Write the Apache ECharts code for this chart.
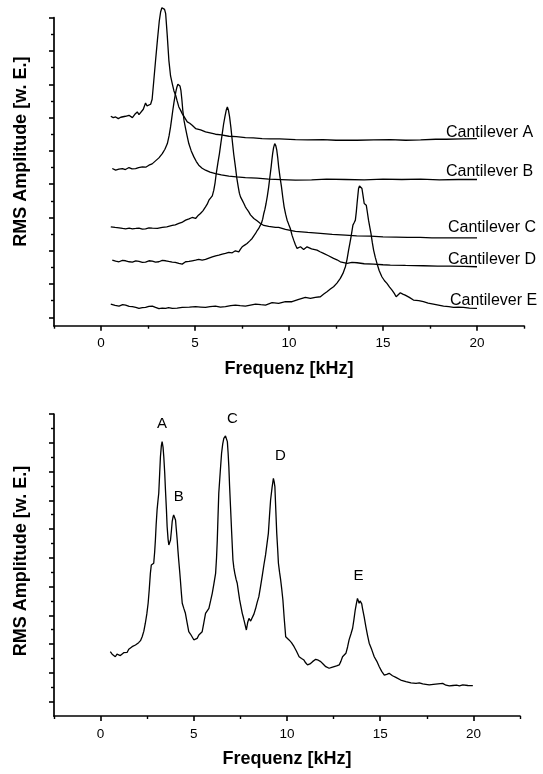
<!DOCTYPE html>
<html>
<head>
<meta charset="utf-8">
<script src="https://cdn.jsdelivr.net/npm/echarts@6/dist/echarts.min.js"></script>
<style>
  html, body { margin: 0; padding: 0; background: #fff; }
  #chart { width: 543px; height: 774px; }
</style>
</head>
<body>
<div id="chart"></div>
<script>
// ---- Resonance spectra of the individual cantilevers (offset for display) ----
// [frequency kHz, RMS amplitude a.u.]
const cantileverA = [
  [0.52,12.58],[0.65,12.5],[0.78,12.54],[0.92,12.44],[1.05,12.52],[1.14,12.44],[1.3,12.58],[1.49,12.64],
  [1.58,12.52],[1.67,12.5],[1.8,12.7],[1.93,12.84],[2.02,12.68],[2.11,12.74],[2.25,13.0],[2.37,13.38],
  [2.45,13.2],[2.52,13.14],[2.64,13.3],[2.72,13.6],[2.81,14.74],[2.9,15.9],[3.0,17.14],[3.1,18.3],
  [3.17,18.84],[3.24,19.1],[3.31,19.18],[3.38,19.0],[3.44,18.74],[3.52,17.5],[3.61,15.94],[3.7,15.0],
  [3.79,14.54],[3.88,14.1],[3.97,13.84],[4.05,13.5],[4.14,13.14],[4.23,12.95],[4.32,12.74],[4.45,12.5],
  [4.59,12.24],[4.72,12.16],[4.85,12.04],[5.03,11.84],[5.3,11.76],[5.56,11.64],[5.8,11.58],[6.09,11.5],
  [6.4,11.46],[6.8,11.38],[7.2,11.36],[7.68,11.3],[8.1,11.28],[8.57,11.24],[9.0,11.22],[9.5,11.22],
  [10.34,11.18],[11.0,11.16],[11.8,11.18],[12.5,11.14],[13.62,11.14],[14.5,11.16],[15.39,11.18],
  [16.2,11.14],[17.0,11.16],[17.8,11.2],[18.36,11.2],[19.2,11.22],[20.0,11.24]
];
const cantileverB = [
  [0.6,9.44],[0.78,9.34],[0.95,9.4],[1.14,9.44],[1.3,9.38],[1.49,9.5],[1.65,9.42],[1.84,9.44],[2.0,9.5],
  [2.2,9.54],[2.38,9.52],[2.55,9.64],[2.72,9.72],[2.9,9.9],[3.08,10.08],[3.26,10.34],[3.4,10.6],[3.53,10.94],
  [3.62,11.4],[3.7,11.94],[3.76,12.44],[3.82,12.94],[3.88,13.4],[3.93,13.74],[3.99,14.1],[4.04,14.34],
  [4.09,14.5],[4.14,14.54],[4.2,14.4],[4.25,14.14],[4.3,13.6],[4.35,12.94],[4.42,12.3],[4.5,11.84],
  [4.58,11.4],[4.67,10.94],[4.8,10.5],[4.94,10.14],[5.07,9.86],[5.2,9.64],[5.38,9.46],[5.56,9.34],
  [5.8,9.22],[6.09,9.14],[6.4,9.06],[6.8,8.98],[7.2,8.94],[7.68,8.9],[8.3,8.86],[8.92,8.8],[9.6,8.78],
  [10.34,8.74],[11.2,8.76],[12.0,8.8],[13.0,8.78],[14.0,8.76],[15.0,8.8],[16.0,8.78],[17.0,8.8],
  [18.0,8.76],[19.0,8.78],[20.0,8.78]
];
const cantileverC = [
  [0.52,5.94],[0.75,5.9],[0.96,5.88],[1.15,5.84],[1.31,5.82],[1.5,5.86],[1.67,5.82],[1.85,5.84],[2.02,5.86],
  [2.2,5.8],[2.37,5.82],[2.55,5.88],[2.73,5.86],[3.0,5.84],[3.26,5.9],[3.5,5.94],[3.79,6.02],[3.95,6.06],
  [4.14,6.14],[4.3,6.2],[4.5,6.34],[4.68,6.42],[4.85,6.5],[5.03,6.44],[5.15,6.6],[5.29,6.74],[5.42,6.9],
  [5.56,7.14],[5.65,7.3],[5.74,7.54],[5.83,7.44],[5.92,7.8],[6.0,8.14],[6.07,8.6],[6.13,9.14],[6.22,9.8],
  [6.3,10.34],[6.38,11.0],[6.45,11.54],[6.52,12.1],[6.59,12.54],[6.66,12.94],[6.72,13.14],[6.78,12.94],
  [6.84,12.54],[6.91,11.9],[6.98,11.14],[7.06,10.3],[7.15,9.54],[7.22,8.9],[7.3,8.34],[7.36,7.96],
  [7.42,7.74],[7.51,7.54],[7.6,7.34],[7.68,7.14],[7.77,6.98],[7.86,6.84],[7.95,6.66],[8.04,6.54],
  [8.13,6.44],[8.22,6.38],[8.3,6.3],[8.39,6.24],[8.48,6.14],[8.57,6.1],[8.66,6.02],[8.75,5.98],
  [8.92,5.96],[9.1,5.94],[9.28,5.9],[9.45,5.9],[9.63,5.84],[9.81,5.78],[10.07,5.72],[10.34,5.66],
  [11.0,5.6],[11.67,5.54],[12.3,5.48],[13.0,5.44],[13.6,5.4],[14.32,5.38],[15.0,5.34],[15.7,5.32],
  [16.3,5.3],[16.98,5.3],[17.6,5.28],[18.3,5.28],[19.2,5.28],[20.0,5.28]
];
const cantileverD = [
  [0.6,3.94],[0.78,3.88],[0.96,3.84],[1.14,3.92],[1.31,3.9],[1.5,3.84],[1.67,3.82],[1.85,3.9],[2.02,3.86],
  [2.2,3.8],[2.37,3.82],[2.55,3.9],[2.73,3.88],[2.9,3.82],[3.08,3.84],[3.26,3.92],[3.44,3.9],[3.6,3.86],
  [3.79,3.82],[3.95,3.8],[4.14,3.74],[4.32,3.7],[4.5,3.84],[4.68,3.86],[4.85,3.9],[5.03,3.94],[5.2,3.98],
  [5.38,3.94],[5.56,3.98],[5.74,4.06],[5.92,4.14],[6.1,4.2],[6.27,4.24],[6.45,4.3],[6.62,4.34],[6.8,4.4],
  [6.98,4.38],[7.15,4.5],[7.33,4.44],[7.42,4.6],[7.51,4.74],[7.64,4.84],[7.77,4.94],[7.9,5.08],[8.04,5.24],
  [8.13,5.4],[8.22,5.54],[8.3,5.7],[8.39,5.84],[8.46,6.0],[8.53,6.14],[8.6,6.4],[8.66,6.74],[8.72,7.0],
  [8.78,7.34],[8.85,7.8],[8.92,8.34],[8.98,8.9],[9.05,9.54],[9.09,9.96],[9.13,10.34],[9.18,10.7],
  [9.24,10.94],[9.3,10.8],[9.35,10.54],[9.4,10.1],[9.45,9.54],[9.52,8.94],[9.6,8.34],[9.67,7.7],
  [9.74,7.14],[9.82,6.7],[9.9,6.34],[9.98,6.1],[10.07,5.84],[10.16,5.44],[10.25,5.14],[10.34,4.86],
  [10.43,4.64],[10.52,4.68],[10.61,4.74],[10.7,4.64],[10.78,4.58],[10.96,4.74],[11.2,4.62],[11.49,4.54],
  [11.65,4.44],[11.84,4.34],[12.1,4.2],[12.37,4.04],[12.55,3.96],[12.73,3.84],[13.09,3.74],[13.35,3.8],
  [13.62,3.78],[14.0,3.72],[14.5,3.7],[15.0,3.66],[15.39,3.64],[16.2,3.62],[17.15,3.6],[17.9,3.58],
  [18.57,3.58],[19.3,3.56],[20.0,3.54]
];
const cantileverE = [
  [0.52,1.3],[0.75,1.22],[0.96,1.18],[1.15,1.26],[1.31,1.24],[1.5,1.16],[1.67,1.14],[1.85,1.1],[2.02,1.04],
  [2.2,1.08],[2.37,1.1],[2.55,1.16],[2.73,1.18],[2.9,1.1],[3.08,1.02],[3.26,1.06],[3.44,1.04],[3.6,1.08],
  [3.79,1.04],[4.05,1.06],[4.32,1.1],[4.7,1.12],[5.03,1.14],[5.3,1.12],[5.56,1.1],[5.8,1.14],[6.09,1.18],
  [6.35,1.12],[6.62,1.14],[6.9,1.2],[7.15,1.24],[7.4,1.2],[7.68,1.18],[7.95,1.24],[8.22,1.3],[8.5,1.26],
  [8.75,1.24],[9.1,1.38],[9.45,1.34],[9.81,1.44],[10.16,1.44],[10.52,1.58],[10.87,1.7],[11.14,1.64],
  [11.4,1.7],[11.67,1.74],[11.85,1.9],[12.02,2.04],[12.2,2.2],[12.37,2.34],[12.55,2.56],[12.73,2.84],
  [12.87,3.14],[13.0,3.54],[13.09,4.0],[13.17,4.54],[13.24,4.96],[13.3,5.34],[13.4,6.04],[13.47,6.2],
  [13.53,6.34],[13.58,6.84],[13.62,7.34],[13.66,7.8],[13.7,8.24],[13.75,8.4],[13.79,8.44],[13.84,8.36],
  [13.88,8.24],[13.94,7.8],[14.0,7.34],[14.06,7.3],[14.11,7.24],[14.17,6.8],[14.23,6.34],[14.3,5.9],
  [14.36,5.54],[14.43,5.0],[14.5,4.54],[14.59,4.1],[14.68,3.74],[14.8,3.3],[14.94,2.94],[15.08,2.7],
  [15.21,2.54],[15.35,2.32],[15.48,2.14],[15.6,1.94],[15.7,1.74],[15.8,1.86],[15.92,1.98],[16.05,1.9],
  [16.18,1.84],[16.4,1.7],[16.62,1.54],[16.9,1.5],[17.15,1.44],[17.4,1.36],[17.68,1.3],[17.95,1.24],
  [18.22,1.18],[18.5,1.14],[18.75,1.1],[19.0,1.12],[19.28,1.1],[19.6,1.06],[20.0,1.04]
];

// ---- Combined spectrum of the cantilever array ----
const combinedSpectrum = [
  [0.52,4.47],[0.62,4.3],[0.7,4.4],[0.79,4.12],[0.88,4.3],[0.97,4.36],[1.06,4.2],[1.15,4.24],[1.24,4.4],
  [1.33,4.47],[1.42,4.42],[1.51,4.64],[1.6,4.7],[1.69,4.82],[1.78,4.78],[1.87,4.94],[1.96,5.0],[2.04,5.1],
  [2.14,5.24],[2.23,5.51],[2.32,5.9],[2.4,6.45],[2.48,7.1],[2.55,7.84],[2.61,8.8],[2.67,9.92],[2.72,10.5],
  [2.76,10.62],[2.81,10.6],[2.85,10.62],[2.9,11.4],[2.94,12.24],[2.98,13.3],[3.03,14.33],[3.08,15.0],
  [3.12,15.49],[3.17,16.9],[3.21,18.03],[3.26,18.8],[3.3,19.08],[3.35,18.7],[3.39,18.03],[3.44,16.9],
  [3.48,15.72],[3.53,14.4],[3.57,13.16],[3.62,12.3],[3.66,11.89],[3.71,12.0],[3.75,12.24],[3.8,12.9],
  [3.84,13.51],[3.88,13.8],[3.92,13.98],[3.97,13.9],[4.02,13.63],[4.06,13.0],[4.11,12.24],[4.15,11.5],
  [4.19,10.85],[4.24,10.1],[4.28,9.46],[4.33,8.6],[4.38,7.84],[4.46,7.5],[4.55,7.14],[4.64,6.5],
  [4.73,5.86],[4.82,5.7],[4.91,5.63],[5.0,5.3],[5.09,5.17],[5.18,5.4],[5.27,5.63],[5.36,5.7],[5.45,5.86],
  [5.54,6.5],[5.63,7.14],[5.72,7.2],[5.81,7.49],[5.9,8.0],[5.99,8.53],[6.08,9.2],[6.17,9.92],[6.22,11.0],
  [6.26,12.24],[6.3,13.9],[6.34,15.49],[6.42,17.0],[6.49,18.27],[6.55,18.9],[6.61,19.31],[6.66,19.42],
  [6.7,19.47],[6.75,19.35],[6.8,19.08],[6.84,18.3],[6.88,17.34],[6.92,16.0],[6.97,14.55],[7.03,12.8],
  [7.1,10.85],[7.15,10.3],[7.2,9.92],[7.27,9.5],[7.33,9.23],[7.4,8.6],[7.46,8.07],[7.53,7.6],[7.6,7.14],
  [7.65,6.9],[7.69,6.68],[7.76,6.3],[7.82,5.98],[7.89,6.5],[7.96,6.79],[8.05,6.6],[8.14,6.68],[8.23,7.1],
  [8.32,7.49],[8.4,7.9],[8.49,8.3],[8.58,9.0],[8.68,9.81],[8.76,10.5],[8.85,11.2],[8.93,12.0],[9.0,12.7],
  [9.06,13.9],[9.12,15.02],[9.2,15.9],[9.27,16.53],[9.31,16.3],[9.35,15.95],[9.4,14.3],[9.45,12.7],
  [9.5,11.6],[9.54,10.62],[9.6,10.0],[9.66,9.46],[9.72,8.8],[9.78,8.07],[9.85,6.8],[9.93,5.51],
  [10.02,5.4],[10.11,5.29],[10.24,5.1],[10.38,4.82],[10.51,4.5],[10.65,4.12],[10.78,4.0],[10.91,3.89],
  [11.0,3.7],[11.1,3.55],[11.23,3.62],[11.37,3.78],[11.54,3.94],[11.68,3.88],[11.81,3.78],[11.95,3.6],
  [12.08,3.43],[12.26,3.32],[12.4,3.38],[12.53,3.43],[12.66,3.48],[12.8,3.55],[12.89,3.8],[12.98,4.12],
  [13.07,4.2],[13.16,4.36],[13.25,4.8],[13.33,5.29],[13.43,5.7],[13.52,6.1],[13.59,6.7],[13.66,7.37],
  [13.72,7.8],[13.78,8.18],[13.83,8.0],[13.87,7.84],[13.92,8.0],[13.96,8.12],[14.01,7.8],[14.05,7.49],
  [14.14,6.9],[14.23,6.21],[14.32,5.6],[14.41,5.06],[14.55,4.6],[14.68,4.12],[14.82,3.8],[14.95,3.43],
  [15.08,3.1],[15.22,2.85],[15.35,2.9],[15.48,2.97],[15.66,2.8],[15.84,2.69],[16.1,2.5],[16.38,2.39],
  [16.65,2.3],[16.92,2.27],[17.1,2.3],[17.28,2.23],[17.45,2.2],[17.63,2.16],[17.85,2.2],[18.1,2.24],
  [18.35,2.27],[18.53,2.14],[18.71,2.09],[18.9,2.12],[19.1,2.14],[19.25,2.1],[19.43,2.16],[19.7,2.12],
  [19.97,2.11]
];

const cantileverNames = ['Cantilever A', 'Cantilever B', 'Cantilever C', 'Cantilever D', 'Cantilever E'];
const peakLetters = ['A', 'B', 'C', 'D', 'E'];
const peakFreqs = [3.3, 3.92, 6.7, 9.27, 13.78];

// axis ticks
const freqMajorTicks = [0, 5, 10, 15, 20];
const freqMinorTicks = [-2.5, 2.5, 7.5, 12.5, 17.5, 22.5];
const ampTopMajorTicks = [0.5, 2.5, 4.5, 6.5, 8.5, 10.5, 12.5, 14.5, 16.5, 18.5];
const ampTopMinorTicks = [1.5, 3.5, 5.5, 7.5, 9.5, 11.5, 13.5, 15.5, 17.5];
const ampBottomMajorTicks = [1, 3, 5, 7, 9, 11, 13, 15, 17, 19, 21];
const ampBottomMinorTicks = [2, 4, 6, 8, 10, 12, 14, 16, 18, 20];

// ---- layout / style ----
const FONT = 'Liberation Sans, Arial, Helvetica, sans-serif';
const INK = '#000';
const nameLabelOffsets = [[-31, -6], [-31, -8], [-29, -10], [-29, -7], [-27, -8]];
const letterOffsets = [[0, -18], [5, -18], [7, -17], [7, -22], [1, -23]];

const spectra = [cantileverA, cantileverB, cantileverC, cantileverD, cantileverE];

function freqAxes(gridIndex) {
  return [
    {
      type: 'value', gridIndex, position: 'bottom', min: -2.5, max: 22.5,
      axisLine: { show: true, onZero: false, lineStyle: { color: INK, width: 1.7 } },
      axisTick: { show: true, customValues: freqMajorTicks, length: 5, lineStyle: { color: INK, width: 1.6 } },
      axisLabel: { show: true, customValues: freqMajorTicks, margin: 11, color: INK, fontSize: 13.5, fontFamily: FONT },
      splitLine: { show: false },
      name: 'Frequenz [kHz]', nameLocation: 'middle', nameGap: 34,
      nameTextStyle: { color: INK, fontSize: 18, fontWeight: 'bold', fontFamily: FONT }
    },
    {
      type: 'value', gridIndex, position: 'bottom', min: -2.5, max: 22.5,
      axisLine: { show: false, onZero: false },
      axisTick: { show: true, customValues: freqMinorTicks, length: 3, lineStyle: { color: INK, width: 1.4 } },
      axisLabel: { show: false }, splitLine: { show: false }
    }
  ];
}

function ampAxes(gridIndex, max, majors, minors, namePadding) {
  return [
    {
      type: 'value', gridIndex, position: 'left', min: 0, max,
      axisLine: { show: true, onZero: false, lineStyle: { color: INK, width: 1.7 } },
      axisTick: { show: true, customValues: majors, length: 5, lineStyle: { color: INK, width: 1.6 } },
      axisLabel: { show: false }, splitLine: { show: false },
      name: 'RMS Amplitude [w. E.]', nameLocation: 'middle', nameGap: 24,
      nameTextStyle: { color: INK, fontSize: 18, fontWeight: 'bold', fontFamily: FONT, padding: namePadding }
    },
    {
      type: 'value', gridIndex, position: 'left', min: 0, max,
      axisLine: { show: false, onZero: false },
      axisTick: { show: true, customValues: minors, length: 3, lineStyle: { color: INK, width: 1.4 } },
      axisLabel: { show: false }, splitLine: { show: false }
    }
  ];
}

function valueAt(series, f) {
  let best = series[0];
  for (const p of series) if (Math.abs(p[0] - f) < Math.abs(best[0] - f)) best = p;
  return best;
}

const lineBase = {
  type: 'line', symbol: 'none', showSymbol: false, clip: false, silent: true,
  lineStyle: { color: INK, width: 1.3 }
};

const series = [];
spectra.forEach((data, i) => {
  series.push(Object.assign({}, lineBase, {
    name: cantileverNames[i], xAxisIndex: 0, yAxisIndex: 0, data,
    markPoint: {
      symbol: 'circle', symbolSize: 0, silent: true,
      data: [{ coord: data[data.length - 1] }],
      label: {
        show: true, formatter: cantileverNames[i], position: 'right', distance: 0,
        offset: nameLabelOffsets[i], color: INK, fontSize: 16, fontFamily: FONT
      }
    }
  }));
});

series.push(Object.assign({}, lineBase, {
  name: 'Cantilever-Array', xAxisIndex: 2, yAxisIndex: 2, data: combinedSpectrum,
  markPoint: {
    symbol: 'circle', symbolSize: 0, silent: true,
    data: peakLetters.map((letter, i) => ({
      coord: valueAt(combinedSpectrum, peakFreqs[i]),
      label: { formatter: letter, offset: letterOffsets[i] }
    })),
    label: { show: true, position: 'inside', color: INK, fontSize: 15, fontFamily: FONT }
  }
}));

const chart = echarts.init(document.getElementById('chart'), null, { renderer: 'canvas' });
chart.setOption({
  animation: false,
  backgroundColor: '#fff',
  textStyle: { fontFamily: FONT },
  grid: [
    { left: 54, top: 17.7, right: 19, bottom: 448.3, containLabel: false, outerBoundsMode: 'none' },
    { left: 54, top: 414, right: 23, bottom: 58, containLabel: false, outerBoundsMode: 'none' }
  ],
  xAxis: [...freqAxes(0), ...freqAxes(1)],
  yAxis: [
    ...ampAxes(0, 18.5, ampTopMajorTicks, ampTopMinorTicks, [0, 0, 0, 40]),
    ...ampAxes(1, 21, ampBottomMajorTicks, ampBottomMinorTicks, [0, 0, 0, 8])
  ],
  series
});
</script>
</body>
</html>
